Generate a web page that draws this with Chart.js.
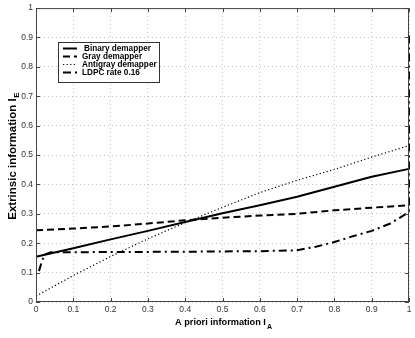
<!DOCTYPE html>
<html>
<head>
<meta charset="utf-8">
<script src="https://cdn.jsdelivr.net/npm/chart.js@4.4.0/dist/chart.umd.min.js"></script>
<style>
  html, body { margin: 0; padding: 0; background: #fff; }
  #wrap { width: 415px; height: 338px; }
</style>
</head>
<body>
<div id="wrap"><canvas id="exitChart" width="415" height="338"></canvas></div>
<script>
// a priori information grid for the demapper curves
const iA = [0, 0.1, 0.2, 0.3, 0.4, 0.5, 0.6, 0.7, 0.8, 0.9, 1.0];
const binaryIE = [0.154, 0.183, 0.213, 0.242, 0.272, 0.302, 0.329, 0.358, 0.392, 0.426, 0.453];
const grayIE = [0.244, 0.25, 0.257, 0.267, 0.278, 0.287, 0.294, 0.30, 0.312, 0.321, 0.329];
const antigrayIE = [0.02, 0.09, 0.155, 0.215, 0.27, 0.322, 0.372, 0.414, 0.451, 0.493, 0.532];

// LDPC decoder curve (axes swapped)
const ldpcIA = [0.008, 0.016, 0.024, 0.04, 0.2, 0.4, 0.6, 0.7, 0.75, 0.8, 0.85, 0.9, 0.95, 1.0, 1.0];
const ldpcIE = [0.105, 0.14, 0.162, 0.169, 0.17, 0.171, 0.173, 0.176, 0.188, 0.204, 0.224, 0.242, 0.267, 0.306, 0.916];

const tickLabels = ['0', '0.1', '0.2', '0.3', '0.4', '0.5', '0.6', '0.7', '0.8', '0.9', '1'];
const seriesNames = ['Binary demapper', 'Gray demapper', 'Antigray demapper', 'LDPC rate 0.16'];

function pts(xs, ys) {
    return xs.map((x, i) => ({ x: x, y: ys[i] }));
}

// frame, inward ticks, axis titles with subscripts and the inset legend
const decorations = {
    id: 'decorations',
    afterDraw(chart) {
        const ctx = chart.ctx;
        const a = chart.chartArea;
        const xs = chart.scales.x, ys = chart.scales.y;
        ctx.save();
        ctx.strokeStyle = '#444';
        ctx.lineWidth = 1;
        ctx.setLineDash([]);
        ctx.strokeRect(a.left + 0.5, a.top + 0.5, a.right - a.left - 1, a.bottom - a.top - 1);
        ctx.beginPath();
        for (let i = 0; i < tickLabels.length; i++) {
            const v = i / 10;
            const px = Math.round(xs.getPixelForValue(v)) + 0.5;
            const py = Math.round(ys.getPixelForValue(v)) + 0.5;
            ctx.moveTo(px, a.bottom); ctx.lineTo(px, a.bottom - 4);
            ctx.moveTo(px, a.top); ctx.lineTo(px, a.top + 4);
            ctx.moveTo(a.left, py); ctx.lineTo(a.left + 4, py);
            ctx.moveTo(a.right, py); ctx.lineTo(a.right - 4, py);
        }
        ctx.stroke();

        // x title
        ctx.fillStyle = '#000';
        ctx.textBaseline = 'alphabetic';
        ctx.font = 'bold 9.2px "Liberation Sans", Arial, sans-serif';
        const xt = 'A priori information I';
        const xw = ctx.measureText(xt).width;
        const cx = (a.left + a.right) / 2;
        ctx.textAlign = 'left';
        ctx.fillText(xt, cx - xw / 2 - 2, 325);
        ctx.font = 'bold 7px "Liberation Sans", Arial, sans-serif';
        ctx.fillText('A', cx + xw / 2 - 1, 329);

        // y title
        ctx.save();
        ctx.translate(16, (a.top + a.bottom) / 2);
        ctx.rotate(-Math.PI / 2);
        ctx.font = 'bold 11.5px "Liberation Sans", Arial, sans-serif';
        const yt = 'Extrinsic information I';
        const yw = ctx.measureText(yt).width;
        ctx.fillText(yt, -yw / 2 - 4, 0);
        ctx.font = 'bold 8px "Liberation Sans", Arial, sans-serif';
        ctx.fillText('E', yw / 2 - 3.5, 2.5);
        ctx.restore();

        // legend
        const lx = 58.5, ly = 42.5, lw = 101, lh = 40;
        ctx.fillStyle = '#fff';
        ctx.fillRect(lx, ly, lw, lh);
        ctx.strokeStyle = '#333';
        ctx.strokeRect(lx, ly, lw, lh);
        ctx.font = 'bold 8.2px "Liberation Sans", Arial, sans-serif';
        ctx.textBaseline = 'middle';
        chart.data.datasets.forEach((ds, i) => {
            const y = 48.5 + i * 8;
            ctx.strokeStyle = ds.borderColor;
            ctx.lineWidth = ds.borderWidth;
            ctx.setLineDash(ds.borderDash || []);
            ctx.beginPath();
            ctx.moveTo(63, y);
            ctx.lineTo(77, y);
            ctx.stroke();
            ctx.setLineDash([]);
            ctx.fillStyle = '#000';
            ctx.fillText(ds.label, i === 0 ? 84 : 82, y);
        });
        ctx.restore();
    }
};

new Chart(document.getElementById('exitChart').getContext('2d'), {
    type: 'line',
    data: {
        datasets: [{
            label: seriesNames[0],
            data: pts(iA, binaryIE),
            borderColor: '#000',
            borderWidth: 2
        }, {
            label: seriesNames[1],
            data: pts(iA, grayIE),
            borderColor: '#000',
            borderWidth: 2,
            borderDash: [7, 4]
        }, {
            label: seriesNames[2],
            data: pts(iA, antigrayIE),
            borderColor: '#000',
            borderWidth: 1.2,
            borderDash: [1.2, 2.4]
        }, {
            label: seriesNames[3],
            data: pts(ldpcIA, ldpcIE),
            borderColor: '#000',
            borderWidth: 2,
            borderDash: [8, 4, 2, 4]
        }]
    },
    options: {
        responsive: false,
        animation: false,
        clip: false,
        elements: {
            point: { radius: 0 },
            line: { tension: 0, fill: false }
        },
        layout: { padding: { left: 0, right: 6, top: 7, bottom: 0 } },
        plugins: {
            legend: { display: false },
            tooltip: { enabled: false }
        },
        scales: {
            x: {
                type: 'linear',
                min: 0,
                max: 1,
                afterFit: s => { s.height = 36; },
                grid: { color: '#c4c4c4', drawTicks: false, lineWidth: 1 },
                border: { display: false, dash: [1, 3] },
                ticks: {
                    stepSize: 0.1,
                    padding: 3,
                    color: '#333',
                    font: { family: '"Liberation Sans", Arial, sans-serif', size: 8.5 },
                    maxRotation: 0,
                    callback: (v, i) => tickLabels[i]
                }
            },
            y: {
                min: 0,
                max: 1,
                afterFit: s => { s.width = 36; },
                grid: { color: '#c4c4c4', drawTicks: false, lineWidth: 1 },
                border: { display: false, dash: [1, 3] },
                ticks: {
                    stepSize: 0.1,
                    padding: 3,
                    color: '#333',
                    font: { family: '"Liberation Sans", Arial, sans-serif', size: 8.5 },
                    callback: (v, i) => tickLabels[i]
                }
            }
        }
    },
    plugins: [decorations]
});
</script>
</body>
</html>
